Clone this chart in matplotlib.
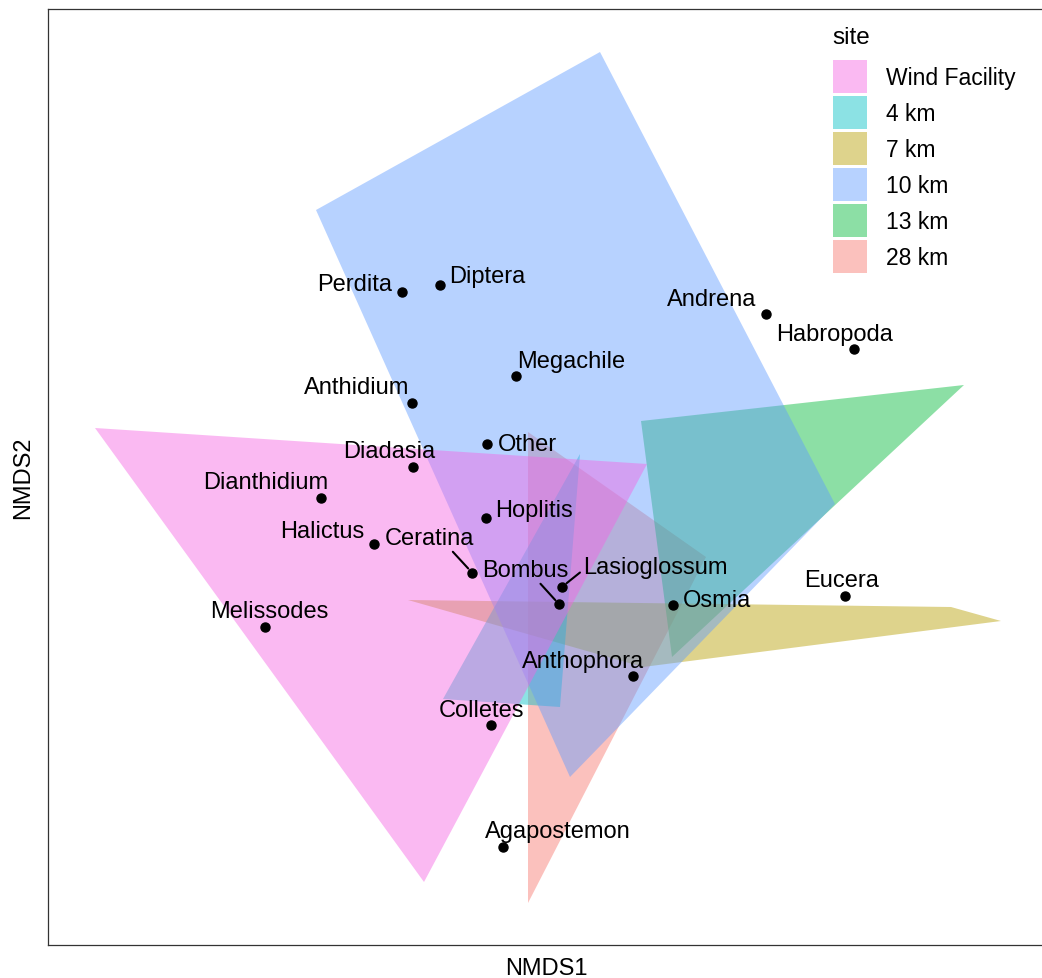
import numpy as np
import matplotlib.pyplot as plt
from matplotlib.patches import Polygon, Patch

plt.rcParams['font.family'] = ['Liberation Sans', 'DejaVu Sans']

# species scores (NMDS1, NMDS2)
species = ["Perdita", "Diptera", "Andrena", "Habropoda", "Megachile", "Anthidium",
           "Other", "Diadasia", "Dianthidium", "Hoplitis", "Halictus", "Ceratina",
           "Bombus", "Lasioglossum", "Osmia", "Eucera", "Melissodes", "Anthophora",
           "Colletes", "Agapostemon"]
nmds1 = [-0.246, -0.15, 0.665, 0.885, 0.04, -0.219, -0.032, -0.217, -0.4475, -0.035,
         -0.315, -0.07, 0.1475, 0.156, 0.433, 0.863, -0.5875, 0.333, -0.0225, 0.008]
nmds2 = [0.517, 0.535, 0.4625, 0.375, 0.307, 0.241, 0.1375, 0.081, 0.0025, -0.048,
         -0.1125, -0.184, -0.263, -0.219, -0.265, -0.243, -0.321, -0.443, -0.565, -0.871]

# repelled label positions (centre x, baseline y)
lab_x = [-0.364, -0.0325, 0.53, 0.836, 0.1775, -0.3575, 0.0675, -0.2775, -0.585, 0.086,
         -0.445, -0.176, 0.0625, 0.3875, 0.5425, 0.854, -0.5775, 0.2075, -0.0475, 0.144]
lab_y = [0.5225, 0.5425, 0.485, 0.3975, 0.33, 0.265, 0.1225, 0.105, 0.0275, -0.0425,
         -0.095, -0.1125, -0.1925, -0.185, -0.2675, -0.2175, -0.295, -0.42, -0.5425, -0.845]
# labels pushed away far enough to get a segment (where it leaves the text box)
leader = {"Ceratina": (0.72, 0.05), "Bombus": (0.65, 0.0), "Lasioglossum": (0.0, 0.35)}

# site hulls
sites = ["Wind Facility", "4 km", "7 km", "10 km", "13 km", "28 km"]
site_cols = ["#F564E3", "#00BFC4", "#B79F00", "#619CFF", "#00BA38", "#F8766D"]
draw_order = ["28 km", "13 km", "7 km", "4 km", "10 km", "Wind Facility"]
hull_x = {
    "Wind Facility": [-1.0125, 0.3675, -0.19],
    "4 km": [0.2, -0.1425, 0.15],
    "7 km": [-0.23, 1.1275, 1.2525, 0.3575],
    "10 km": [-0.46, 0.25, 0.8375, 0.175],
    "13 km": [0.3525, 1.16, 0.43],
    "28 km": [0.07, 0.515, 0.07],
}
hull_y = {
    "Wind Facility": [0.1775, 0.0875, -0.9575],
    "4 km": [0.1125, -0.5, -0.52],
    "7 km": [-0.2525, -0.27, -0.305, -0.42],
    "10 km": [0.7225, 1.1175, -0.0125, -0.695],
    "13 km": [0.195, 0.285, -0.395],
    "28 km": [0.1675, -0.145, -1.01],
}
col_of = dict(zip(sites, site_cols))

fig = plt.figure(figsize=(10.42, 9.79), dpi=100)
ax = fig.add_axes([48/1042, 33/979, 997/1042, 936/979])

for s in draw_order:
    pts = np.column_stack([hull_x[s], hull_y[s]])
    ax.add_patch(Polygon(pts, closed=True, facecolor=col_of[s], alpha=0.45,
                         edgecolor='none'))

ax.plot(nmds1, nmds2, 'o', color='black', ms=6.5, zorder=3)

for name, x, y, lx, ly in zip(species, nmds1, nmds2, lab_x, lab_y):
    if name in leader:
        ax.annotate(name, xy=(x, y), xytext=(lx, ly), ha='center', va='baseline',
                    fontsize=17, zorder=4,
                    arrowprops=dict(arrowstyle='-', color='black', lw=1.5,
                                    shrinkA=0, shrinkB=4, relpos=leader[name]))
    else:
        ax.text(lx, ly, name, ha='center', va='baseline', fontsize=17, zorder=4)

ax.set_xlim(-1.13, 1.3625)
ax.set_ylim(-1.115, 1.225)
ax.set_xticks([])
ax.set_yticks([])
for sp in ax.spines.values():
    sp.set_color('#333333')
    sp.set_linewidth(0.9)
ax.set_xlabel("NMDS1", fontsize=17, labelpad=9)
ax.set_ylabel("NMDS2", fontsize=17, labelpad=10)

handles = [Patch(facecolor=c, alpha=0.45, edgecolor='none', label=s)
           for s, c in zip(sites, site_cols)]
fig.legend(handles=handles, loc='upper left', bbox_to_anchor=(833/1042, 1 - 61/979),
           frameon=False, fontsize=16.5, borderpad=0, borderaxespad=0,
           handlelength=1.48, handleheight=1.84, labelspacing=0.13, handletextpad=0.83)
fig.text(832/1042, 1 - 44/979, "site", fontsize=17.5, ha='left', va='baseline')

fig.savefig("out.png", dpi=100)
